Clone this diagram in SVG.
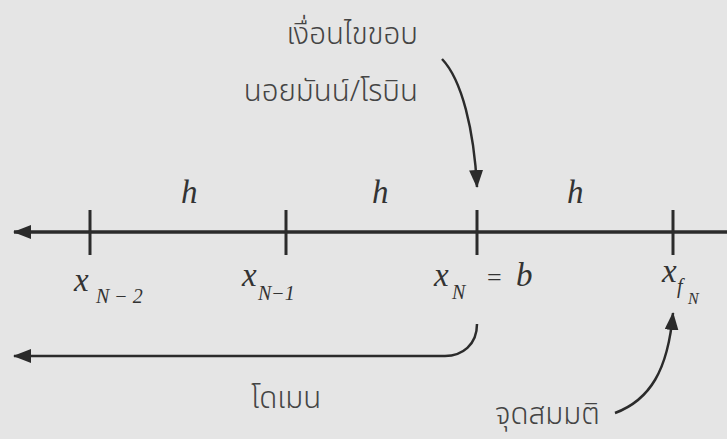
<svg xmlns="http://www.w3.org/2000/svg" width="727" height="439" viewBox="0 0 727 439">
<defs>
<style>
.thai{font-family:"Noto Sans Thai","Noto Sans","DejaVu Sans",sans-serif;font-size:29.5px;font-weight:300;fill:#444}
.m{font-family:"Liberation Serif","Times New Roman",serif;font-style:italic;font-size:33px;fill:#333}
.s{font-family:"Liberation Serif","Times New Roman",serif;font-style:italic;font-size:20px;fill:#333}
.ss{font-family:"Liberation Serif","Times New Roman",serif;font-style:italic;font-size:16px;fill:#333}
.up{font-family:"Liberation Serif","Times New Roman",serif;font-size:26px;fill:#333}
.ln{stroke:#2b2b2b;stroke-width:3.5;fill:none}
.tk{stroke:#2b2b2b;stroke-width:3;fill:none}
.cv{stroke:#2b2b2b;stroke-width:2.5;fill:none}
</style>
<marker id="ah" viewBox="0 0 18 14" refX="17" refY="7" markerWidth="18" markerHeight="14" markerUnits="userSpaceOnUse" orient="auto">
<path d="M0,0 L18,7 L0,14 Z" fill="#2b2b2b"/>
</marker>
</defs>
<rect width="727" height="439" fill="#e5e5e5"/>
<g id="connectors">
<line class="ln" x1="727" y1="232" x2="14" y2="232" marker-end="url(#ah)"/>
<path class="cv" d="M442,59 C462,80 474,130 477,187" marker-end="url(#ah)"/>
<path class="cv" d="M477,324 C477,345 462,356 445,356 L14,356" marker-end="url(#ah)"/>
<path class="cv" d="M615,413 C650,400 668,370 673,313" marker-end="url(#ah)"/>
</g>
<g id="ticks">
<line class="tk" x1="90" y1="210" x2="90" y2="255"/>
<line class="tk" x1="286" y1="210" x2="286" y2="255"/>
<line class="tk" x1="477" y1="210" x2="477" y2="255"/>
<line class="tk" x1="673" y1="210" x2="673" y2="255"/>
</g>
<g id="label-boundary">
<text class="thai" x="418" y="44" text-anchor="end">เงื่อนไขขอบ</text>
<text class="thai" x="418" y="101" text-anchor="end">นอยมันน์/โรบิน</text>
</g>
<g id="label-h">
<text class="m" x="181" y="203">h</text>
<text class="m" x="372" y="203">h</text>
<text class="m" x="567" y="203">h</text>
</g>
<g id="node-xN2">
<text class="m" x="74" y="291">x</text>
<text class="s" x="96" y="303">N − 2</text>
</g>
<g id="node-xN1">
<text class="m" x="242" y="286">x</text>
<text class="s" x="258" y="300">N−1</text>
</g>
<g id="node-xN">
<text class="m" x="434" y="286">x</text>
<text class="s" x="452" y="299">N</text>
<text class="up" x="487" y="286">=</text>
<text class="m" x="516" y="286">b</text>
</g>
<g id="node-xfN">
<text class="m" x="662" y="282">x</text>
<text class="s" x="677" y="293">f</text>
<text class="ss" x="688" y="304">N</text>
</g>
<g id="label-domain">
<text class="thai" x="251" y="408">โดเมน</text>
</g>
<g id="label-fictitious">
<text class="thai" x="495" y="424">จุดสมมติ</text>
</g>
</svg>
